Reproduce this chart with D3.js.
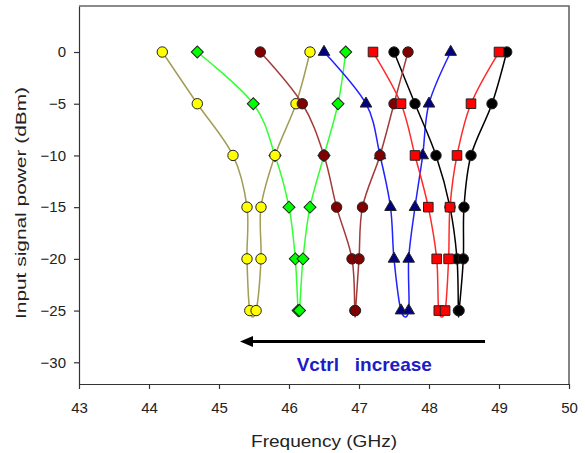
<!DOCTYPE html>
<html>
<head>
<meta charset="utf-8">
<script src="https://cdn.jsdelivr.net/npm/d3@7"></script>
<style>
  body { margin: 0; background: #fff; }
  svg { display: block; font-family: "Liberation Sans", Arial, sans-serif; }
</style>
</head>
<body>
<svg id="chart" width="585" height="453"></svg>
<script>
// input power sweep, down one side of the V and back up the other
var powerLevels = [0, -5, -10, -15, -20, -25, -25, -20, -15, -10, -5, 0];

// frequency (GHz) read per Vctrl setting
var yellowFreq = [44.19, 44.69, 45.2, 45.4, 45.4, 45.44, 45.53, 45.6, 45.6, 45.8, 46.1, 46.3];
var greenFreq = [44.69, 45.49, 45.8, 46.0, 46.09, 46.13, 46.15, 46.2, 46.3, 46.5, 46.7, 46.81];
var darkredFreq = [45.59, 46.19, 46.5, 46.68, 46.9, 46.94, 46.95, 47.0, 47.05, 47.3, 47.5, 47.7];
var blueFreq = [46.5, 47.1, 47.3, 47.45, 47.5, 47.6, 47.71, 47.71, 47.8, 47.91, 48.0, 48.31];
var redFreq = [47.2, 47.6, 47.8, 47.99, 48.11, 48.14, 48.23, 48.28, 48.3, 48.4, 48.6, 49.0];
var blackFreq = [47.5, 47.8, 48.1, 48.3, 48.4, 48.42, 48.43, 48.49, 48.5, 48.6, 48.9, 49.11];

var freqTicks = [43, 44, 45, 46, 47, 48, 49, 50];
var powerTicks = [0, -5, -10, -15, -20, -25, -30];

var arrowFreq = [48.8, 45.3];
var arrowPower = -28;
var noteText = 'Vctrl   increase';

var margin = { top: 6, right: 16, bottom: 69, left: 79 },
    width = 585 - margin.left - margin.right,
    height = 453 - margin.top - margin.bottom;

var svg = d3.select('#chart'),
    g = svg.append('g').attr('transform', 'translate(' + margin.left + ',' + margin.top + ')');

var x = d3.scaleLinear().domain([43, 50]).range([0, width]),
    y = d3.scaleLinear().domain([-32.1, 4.45]).range([height, 0]);

// draw order matters: later series sit on top of earlier markers
var series = [
    { freq: greenFreq, line: '#33ff33', fill: '#00ff00', shape: 'diamond' },
    { freq: blueFreq, line: '#2222ff', fill: '#000080', shape: 'triangle' },
    { freq: blackFreq, line: '#000000', fill: '#000000', shape: 'circle' },
    { freq: yellowFreq, line: '#a39c55', fill: '#ffff00', shape: 'circle' },
    { freq: darkredFreq, line: '#a33a3a', fill: '#800000', shape: 'circle' },
    { freq: redFreq, line: '#ff2a2a', fill: '#ff0000', shape: 'square' }
];

var symbols = {
    circle: d3.symbol(d3.symbolCircle, 85),
    square: d3.symbol(d3.symbolSquare, 92),
    diamond: d3.symbol(d3.symbolSquare, 72),
    triangle: d3.symbol(d3.symbolTriangle, 58)
};

// axes
var xAxis = g.append('g')
    .attr('transform', 'translate(0,' + height + ')')
    .call(d3.axisBottom(x).tickValues(freqTicks).tickFormat(d3.format('d'))
        .tickSize(5).tickSizeOuter(0).tickPadding(13));

var yAxis = g.append('g')
    .call(d3.axisLeft(y).tickValues(powerTicks).tickSize(5).tickSizeOuter(0).tickPadding(8));

[xAxis, yAxis].forEach(function (ax) {
    ax.selectAll('path, line').attr('stroke', '#333').attr('stroke-width', 1.2);
    ax.selectAll('text').attr('font-size', 15).attr('fill', '#222')
        .attr('font-family', '"Liberation Sans", Arial, sans-serif');
});

// frame top and right
g.append('path')
    .attr('d', 'M0,0H' + width + 'V' + height)
    .attr('fill', 'none')
    .attr('stroke', '#666')
    .attr('stroke-width', 1.6);

var line = d3.line()
    .x(function (d) { return x(d[0]); })
    .y(function (d) { return y(d[1]); })
    .curve(d3.curveCardinal.tension(0));

series.forEach(function (s) {
    var pts = s.freq.map(function (f, i) { return [f, powerLevels[i]]; });
    g.append('path')
        .datum(pts)
        .attr('d', line)
        .attr('fill', 'none')
        .attr('stroke', s.line)
        .attr('stroke-width', 1.5);
    g.selectAll(null)
        .data(pts)
        .enter().append('path')
        .attr('d', symbols[s.shape])
        .attr('transform', function (d) {
            return 'translate(' + x(d[0]) + ',' + y(d[1]) + ')' + (s.shape === 'diamond' ? ' rotate(45)' : '');
        })
        .attr('fill', s.fill)
        .attr('stroke', '#222')
        .attr('stroke-width', 1);
});

// Vctrl arrow
var ay = y(arrowPower),
    tip = x(arrowFreq[1]);
g.append('line')
    .attr('x1', x(arrowFreq[0])).attr('y1', ay)
    .attr('x2', tip + 8).attr('y2', ay)
    .attr('stroke', '#000')
    .attr('stroke-width', 3);
g.append('path')
    .attr('d', 'M' + tip + ',' + ay + 'L' + (tip + 13) + ',' + (ay - 5.5) + 'L' + (tip + 13) + ',' + (ay + 5.5) + 'Z')
    .attr('fill', '#000');

g.append('text')
    .attr('x', x(46.11))
    .attr('y', y(-30.8))
    .attr('font-size', 19)
    .attr('font-weight', 'bold')
    .attr('fill', '#1c1cc8')
    .style('white-space', 'pre')
    .text(noteText);

// axis titles
svg.append('text')
    .attr('x', margin.left + width / 2)
    .attr('y', 447)
    .attr('text-anchor', 'middle')
    .attr('font-size', 16)
    .attr('fill', '#222')
    .attr('textLength', 146)
    .attr('lengthAdjust', 'spacingAndGlyphs')
    .text('Frequency (GHz)');

svg.append('text')
    .attr('transform', 'translate(26,203) rotate(-90)')
    .attr('text-anchor', 'middle')
    .attr('font-size', 15.5)
    .attr('fill', '#222')
    .attr('textLength', 232)
    .attr('lengthAdjust', 'spacingAndGlyphs')
    .text('Input signal power (dBm)');
</script>
</body>
</html>
